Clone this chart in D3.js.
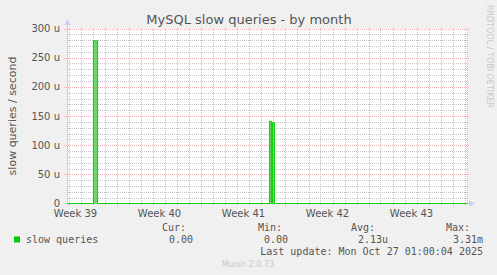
<!DOCTYPE html>
<html><head><meta charset="utf-8">
<script src="https://cdn.jsdelivr.net/npm/d3@7"></script>
<style>body{margin:0;background:#f0f0f0}svg{display:block}</style>
</head><body>
<script>
// ---- data ----
const title = "MySQL slow queries - by month";
const yLabel = "slow queries / second";
const yTicks = [0, 50, 100, 150, 200, 250, 300];
const yTickLabels = ["0", "50 u", "100 u", "150 u", "200 u", "250 u", "300 u"];
const weekLabels = ["Week 39", "Week 40", "Week 41", "Week 42", "Week 43"];
const weekMid = ["2025-09-25T12:00Z", "2025-10-02T12:00Z", "2025-10-09T12:00Z", "2025-10-16T12:00Z", "2025-10-23T12:00Z"];
const weekStarts = ["2025-09-29T00:00Z", "2025-10-06T00:00Z", "2025-10-13T00:00Z", "2025-10-20T00:00Z", "2025-10-27T00:00Z"];
const timeStart = "2025-09-24T22:00Z", timeEnd = "2025-10-28T06:00Z";
const sampleTimes = ["2025-09-24T22:00Z", "2025-09-27T02:00Z", "2025-09-27T10:00Z", "2025-10-11T18:00Z", "2025-10-11T22:00Z", "2025-10-12T00:00Z", "2025-10-12T04:00Z", "2025-10-28T06:00Z"];
const sampleValues = [0, 279, 0, 141, 0, 139, 0, 0]; // micro-queries/sec
const seriesName = "slow queries";
const legendHeads = ["Cur:", "Min:", "Avg:", "Max:"];
const legendVals = ["0.00", "0.00", "2.13u", "3.31m"];
const lastUpdate = "Last update: Mon Oct 27 01:00:04 2025";
const footer = "Munin 2.0.73";

// ---- drawing ----
const W = 497, H = 275;
const svg = d3.select("body").append("svg").attr("width", W).attr("height", H);
svg.append("rect").attr("width", W).attr("height", H).attr("fill", "#f0f0f0");

const x = d3.scaleUtc().domain([new Date(timeStart), new Date(timeEnd)]).range([67.5, 467.5]);
const y = d3.scaleLinear().domain([0, 300]).range([203.5, 28.5]);

svg.append("rect").attr("x", 67.5).attr("y", 28.5).attr("width", 400).attr("height", 175).attr("fill", "#fff");

const grid = svg.append("g");
const minorC = "#c4c4c4", majorC = "#eeb0b0";
// minor horizontal
d3.range(0, 301, 10).forEach(v => {
  if (v % 50 === 0) return;
  const yy = Math.round(y(v)) + 0.5;
  grid.append("line").attr("x1", 68).attr("x2", 468).attr("y1", yy).attr("y2", yy)
    .attr("stroke", minorC).attr("stroke-dasharray", "1,1");
});
// minor vertical (days)
const days = d3.utcDay.range(new Date(timeStart), new Date(timeEnd));
days.forEach(d => {
  const xx = Math.round(x(d)) + 0.5;
  grid.append("line").attr("x1", xx).attr("x2", xx).attr("y1", 28).attr("y2", 206)
    .attr("stroke", minorC).attr("stroke-dasharray", "1,1");
});
grid.append("line").attr("x1", 467.5).attr("x2", 467.5).attr("y1", 28).attr("y2", 204).attr("stroke", minorC).attr("stroke-dasharray", "1,1");
// major horizontal
yTicks.forEach(v => {
  if (v === 0) return;
  const yy = Math.round(y(v)) + 0.5;
  grid.append("line").attr("x1", 64).attr("x2", 470).attr("y1", yy).attr("y2", yy)
    .attr("stroke", majorC).attr("stroke-dasharray", "1,1");
});
// major vertical
weekStarts.forEach(d => {
  const xx = Math.round(x(new Date(d))) + 0.5;
  grid.append("line").attr("x1", xx).attr("x2", xx).attr("y1", 28).attr("y2", 207)
    .attr("stroke", majorC).attr("stroke-dasharray", "1,1");
});

// axes
svg.append("line").attr("x1", 67.5).attr("x2", 67.5).attr("y1", 24).attr("y2", 206).attr("stroke", "#c8d0f0");
svg.append("path").attr("d", "M64.5,25 L70.5,25 L67.5,19 Z").attr("fill", "#c8d0f0");
svg.append("line").attr("x1", 64).attr("x2", 470).attr("y1", 203.5).attr("y2", 203.5).attr("stroke", "#c8d0f0");
svg.append("path").attr("d", "M469,200.5 L469,206.5 L475,203.5 Z").attr("fill", "#c8d0f0");

// series
const pts = sampleTimes.map((t, i) => [new Date(t), sampleValues[i]]);
svg.append("path").datum(pts)
  .attr("d", d3.area().curve(d3.curveStepAfter).x(d => x(d[0])).y0(y(0)).y1(d => y(d[1])))
  .attr("fill", "#66da66");
svg.append("path").datum(pts)
  .attr("d", d3.line().curve(d3.curveStepAfter).x(d => x(d[0])).y(d => y(d[1])))
  .attr("fill", "none").attr("stroke", "#00cc00").attr("stroke-width", 1).attr("opacity", 0.9);

const sans = "DejaVu Sans", mono = "DejaVu Sans Mono";
// title
svg.append("text").attr("x", 249).attr("y", 24).attr("text-anchor", "middle")
  .attr("font-family", sans).attr("font-size", 13).attr("fill", "#555").text(title);
// y label
svg.append("text").attr("transform", "translate(16,116) rotate(-90)").attr("text-anchor", "middle")
  .attr("font-family", sans).attr("font-size", 11).attr("fill", "#555").text(yLabel);
// y tick labels
yTicks.forEach((v, i) => {
  svg.append("text").attr("x", 60).attr("y", y(v) + 3.5).attr("text-anchor", "end")
    .attr("font-family", sans).attr("font-size", 10).attr("fill", "#555").text(yTickLabels[i]);
});
// x labels
weekMid.forEach((d, i) => {
  svg.append("text").attr("x", x(new Date(d)) + 1).attr("y", 216.5).attr("text-anchor", "middle")
    .attr("font-family", sans).attr("font-size", 10).attr("fill", "#555").text(weekLabels[i]);
});

// legend
const headX = [186, 282, 375, 470];
const valX = [193, 288, 388, 483];
legendHeads.forEach((h, i) => {
  svg.append("text").attr("x", headX[i]).attr("y", 231).attr("text-anchor", "end")
    .attr("font-family", mono).attr("font-size", 10).attr("fill", "#555").text(h);
  svg.append("text").attr("x", valX[i]).attr("y", 243).attr("text-anchor", "end")
    .attr("font-family", mono).attr("font-size", 10).attr("fill", "#555").text(legendVals[i]);
});
svg.append("rect").attr("x", 14).attr("y", 236.5).attr("width", 6).attr("height", 6).attr("fill", "#00cc00");
svg.append("text").attr("x", 26).attr("y", 243).attr("font-family", mono).attr("font-size", 10).attr("fill", "#555").text(seriesName);
svg.append("text").attr("x", 483).attr("y", 255).attr("text-anchor", "end")
  .attr("font-family", mono).attr("font-size", 10).attr("fill", "#555").text(lastUpdate);
svg.append("text").attr("x", 248).attr("y", 266.5).attr("text-anchor", "middle")
  .attr("font-family", sans).attr("font-size", 8).attr("fill", "#c8c8c8").text(footer);
svg.append("text").attr("transform", "translate(487,5) rotate(90)")
  .attr("font-family", sans).attr("font-size", 8).attr("fill", "#c8c8c8").text("RRDTOOL / TOBI OETIKER");
</script>
</body></html>
